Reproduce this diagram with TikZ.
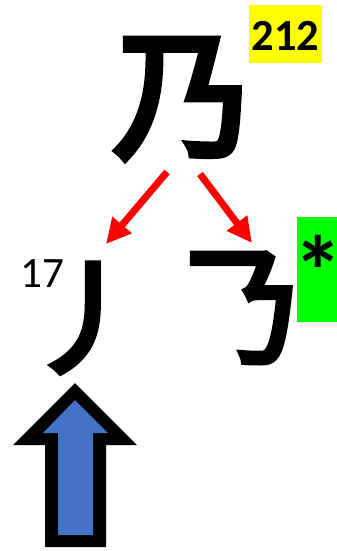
\documentclass[tikz,border=0pt]{standalone}
\usepackage{fontspec}
\setmainfont{Carlito}
\newfontfamily\cjk[FakeBold=5]{Noto Sans CJK SC}
\usetikzlibrary{arrows.meta}
\definecolor{tagYellow}{RGB}{255,255,0}
\definecolor{tagGreen}{RGB}{0,255,0}
\definecolor{blockBlue}{RGB}{68,114,196}
\definecolor{splitRed}{RGB}{255,0,0}

\tikzset{
  glyph/.style={inner sep=0pt,font=\cjk\fontsize{#1}{#1}\selectfont},
  splitarrow/.style={splitRed,line width=6pt,-{Triangle[length=0.75cm,width=0.72cm]}},
}

\begin{document}
\begin{tikzpicture}[x=0.03cm,y=-0.03cm]
  \useasboundingbox (0,0) rectangle (337,551);
  % ---- whole character and its count
  \node[glyph=120pt] (nai) at (183,99) {乃};
  \fill[tagYellow] (249,5) rectangle (322,63);
  \node[font=\bfseries\fontsize{38pt}{38pt}\selectfont,inner sep=0pt] (count) at (285.5,36) {212};
  % ---- split into two parts
  \node[glyph=105pt] (pie) at (87,318) {丿};
  \node[glyph=106pt] (hook) at (242,308) {𠄎};
  \node[font=\fontsize{37pt}{37pt}\selectfont,inner sep=0pt] (num) at (42,274) {17};
  \fill[tagGreen] (297,217) rectangle (337,322);
  \node[font=\bfseries\fontsize{85pt}{85pt}\selectfont,inner sep=0pt] (star) at (318,271) {\makebox[0pt]{*}};
  \coordinate (lfrom) at (167,172);
  \coordinate (lto) at (106,244);
  \coordinate (rfrom) at (200,174);
  \coordinate (rto) at (252,243);
  \draw[splitarrow] (lfrom) -- (lto);
  \draw[splitarrow] (rfrom) -- (rto);
  % ---- block arrow under the first part
  \fill[black] (75,383) -- (137,445) -- (106,445) -- (106,547)
    -- (45,547) -- (45,445) -- (13,445) -- cycle;
  \fill[blockBlue] (75,400) -- (108,433) -- (93,433) -- (93,535)
    -- (58,535) -- (58,433) -- (43,433) -- cycle;
\end{tikzpicture}
\end{document}
